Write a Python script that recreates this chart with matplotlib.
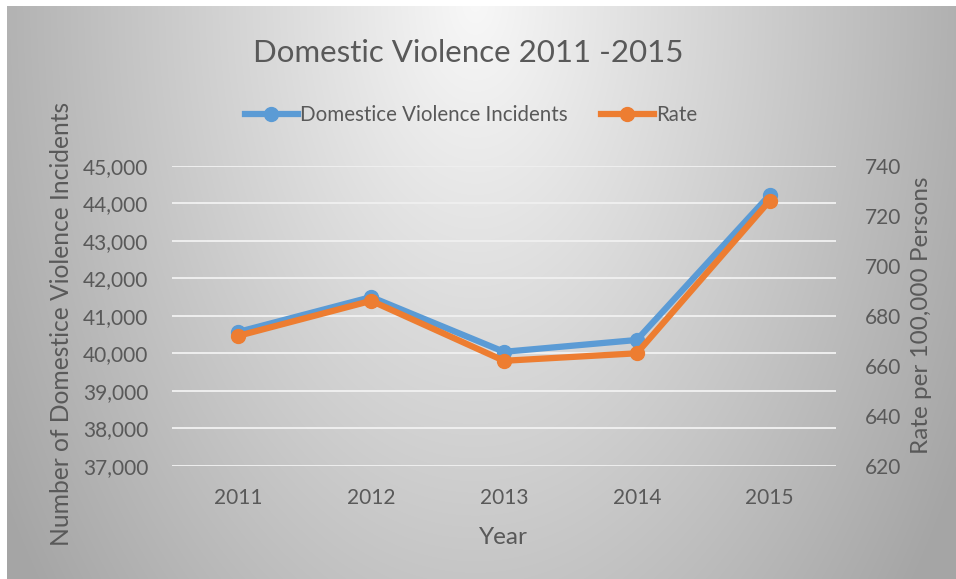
import numpy as np
import matplotlib
matplotlib.use("Agg")
import matplotlib.pyplot as plt
from matplotlib.ticker import FuncFormatter
from matplotlib.lines import Line2D

# ---- data ----
years = ["2011", "2012", "2013", "2014", "2015"]
incidents = [40570, 41500, 40040, 40355, 44220]
rate = [672, 686, 662, 665, 726]
left_ticks = [37000, 38000, 39000, 40000, 41000, 42000, 43000, 44000, 45000]
right_ticks = [620, 640, 660, 680, 700, 720, 740]

title = "Domestic Violence 2011 -2015"
left_label = "Number of Domestice Violence Incidents"
right_label = "Rate per 100,000 Persons"
x_label = "Year"
series_names = ["Domestice Violence Incidents", "Rate"]

# ---- style ----
plt.rcParams["font.family"] = ["Lato", "DejaVu Sans"]
TEXT = "#595959"
BLUE = "#5B9BD5"
ORANGE = "#ED7D31"
W, H = 956, 579

fig = plt.figure(figsize=(W / 100, H / 100), dpi=100)
fig.patch.set_facecolor("white")

# radial grey backdrop of the chart area
bx0, by_top = 7, 6
bg = fig.add_axes([bx0 / W, 0, (W - bx0) / W, (H - by_top) / H], zorder=0)
gx, gy = np.meshgrid(np.arange(bx0, W), np.arange(by_top, H))
cx, cy, rx, ry = 475.0, 0.0, 560.0, 950.0
t = np.sqrt(((gx - cx) / rx) ** 2 + ((gy - cy) / ry) ** 2)
t = np.clip(t, 0, 1)
shade = (248 - 83 * t) / 255.0
bg.imshow(np.dstack([shade, shade, shade]), aspect="auto", interpolation="bilinear")
bg.set_axis_off()

# plot area
left, right = 172 / W, 836 / W
top, bottom = 1 - 165.8 / H, 1 - 465.8 / H
ax = fig.add_axes([left, bottom, right - left, top - bottom], zorder=1)
ax.patch.set_alpha(0)
ax2 = ax.twinx()
ax2.patch.set_alpha(0)

x = np.arange(len(years))
ax.set_xlim(-0.5, len(years) - 0.5)
ax.set_ylim(left_ticks[0], left_ticks[-1])
ax2.set_ylim(right_ticks[0], right_ticks[-1])

for yv in left_ticks:
    ax.axhline(yv, color="#efefef", lw=1.4, zorder=0)

ax.plot(x, incidents, color=BLUE, lw=4.5, marker="o", ms=10,
        solid_capstyle="round", zorder=3)
ax2.plot(x, rate, color=ORANGE, lw=4.5, marker="o", ms=10,
         solid_capstyle="round", zorder=3)

ax.set_xticks(x)
ax.set_xticklabels(years)
ax.set_yticks(left_ticks)
ax.yaxis.set_major_formatter(FuncFormatter(lambda v, p: f"{int(v):,}"))
ax2.set_yticks(right_ticks)

for a in (ax, ax2):
    for s in a.spines.values():
        s.set_visible(False)
ax.tick_params(axis="both", length=0, labelsize=15, colors=TEXT)
ax.tick_params(axis="y", pad=17)
ax.tick_params(axis="x", pad=16)
ax2.tick_params(axis="y", length=0, labelsize=15, colors=TEXT, pad=21)

# titles
fig.text(468 / W, 1 - 53 / H, title, ha="center", va="center",
         fontsize=22.5, color=TEXT)
fig.text(62 / W, 1 - 323.5 / H, left_label, rotation=90, ha="center",
         va="center", fontsize=17.7, color=TEXT)
fig.text(921 / W, 1 - 315 / H, right_label, rotation=90, ha="center",
         va="center", fontsize=17.5, color=TEXT)
fig.text(503 / W, 1 - 537 / H, x_label, ha="center", va="center",
         fontsize=17.5, color=TEXT)

handles = [
    Line2D([], [], color=BLUE, lw=4.5, marker="o", ms=10),
    Line2D([], [], color=ORANGE, lw=4.5, marker="o", ms=10),
]
fig.legend(handles, series_names, loc="center", ncol=2,
           bbox_to_anchor=(471 / W, 1 - 115 / H), frameon=False,
           fontsize=14.8, labelcolor=TEXT, handlelength=2.6,
           handletextpad=0.1, columnspacing=1.6)

fig.savefig("out.png", dpi=100)
